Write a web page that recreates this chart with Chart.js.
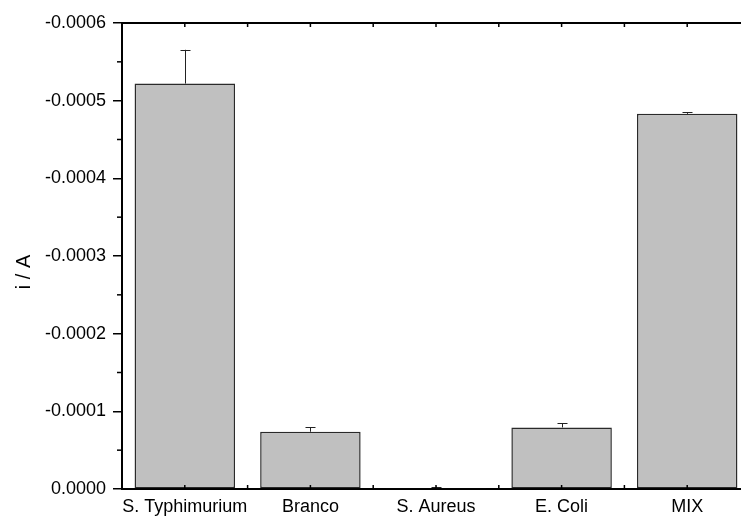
<!DOCTYPE html>
<html>
<head>
<meta charset="utf-8">
<script src="https://cdn.jsdelivr.net/npm/chart.js@4/dist/chart.umd.min.js"></script>
<style>
  html, body { margin: 0; padding: 0; background: #fff; overflow: hidden; }
  canvas { display: block; }
</style>
</head>
<body>
<canvas id="barChart" width="750" height="516"></canvas>
<script>
// values (current in A, negative goes up)
var categories = ['S. Typhimurium', 'Branco', 'S. Aureus', 'E. Coli', 'MIX'];
var current = [-0.000522, -0.0000737, -0.0000005, -0.0000793, -0.000483];
var errors = [0.0000435, 0.0000057, 0.0000025, 0.0000051, 0.0000021];
var minorTicks = [-0.00055, -0.00045, -0.00035, -0.00025, -0.00015, -0.00005];
var yTitle = 'i / A';

var fontFamily = "'Liberation Sans', Arial, sans-serif";

// error bars, top frame line, inward ticks, minor y ticks and the y title
var extras = {
    id: 'extras',
    afterDatasetsDraw: function(chart){
        var ctx = chart.ctx;
        var xs = chart.scales.x;
        var ys = chart.scales.y;
        var area = chart.chartArea;
        var meta = chart.getDatasetMeta(0);

        ctx.save();
        ctx.strokeStyle = '#222';
        ctx.lineWidth = 1;
        meta.data.forEach(function(bar, i){
            var y0 = ys.getPixelForValue(current[i]);
            var y1 = ys.getPixelForValue(current[i] - errors[i]);
            var cx = Math.round(bar.x) + 0.5;
            ctx.beginPath();
            ctx.moveTo(cx, y0);
            ctx.lineTo(cx, y1);
            ctx.moveTo(cx - 5, Math.round(y1) + 0.5);
            ctx.lineTo(cx + 5, Math.round(y1) + 0.5);
            ctx.stroke();
        });

        ctx.strokeStyle = '#000';
        ctx.lineWidth = 2;
        ctx.beginPath();
        ctx.moveTo(area.left, area.top);
        ctx.lineTo(area.right, area.top);
        ctx.stroke();

        ctx.lineWidth = 1.5;
        var half = (xs.getPixelForValue(1) - xs.getPixelForValue(0)) / 2;
        for (var i = 0; i < categories.length; i++) {
            var c = xs.getPixelForValue(i);
            [c, c + half].forEach(function(px){
                ctx.beginPath();
                ctx.moveTo(px, area.top);
                ctx.lineTo(px, area.top + 4);
                ctx.moveTo(px, area.bottom);
                ctx.lineTo(px, area.bottom - 4);
                ctx.stroke();
            });
        }

        minorTicks.forEach(function(v){
            var py = ys.getPixelForValue(v);
            ctx.beginPath();
            ctx.moveTo(area.left - 5, py);
            ctx.lineTo(area.left, py);
            ctx.stroke();
        });

        // y title sits a bit below the middle of the axis, like the original
        ctx.translate(24, (area.top + area.bottom) / 2 + 16);
        ctx.rotate(-Math.PI / 2);
        ctx.fillStyle = '#000';
        ctx.font = '20px ' + fontFamily;
        ctx.textAlign = 'center';
        ctx.textBaseline = 'middle';
        ctx.fillText(yTitle, 0, 0);
        ctx.restore();
    }
};

var data = {
    labels: categories,
    datasets: [{
        data: current,
        backgroundColor: '#c0c0c0',
        borderColor: '#2a2a2a',
        borderWidth: 1.5,
        borderSkipped: false,
        categoryPercentage: 0.8,
        barPercentage: 1
    }]
};

var options = {
    animation: false,
    responsive: false,
    devicePixelRatio: 1,
    layout: { padding: { top: 23, right: 0, left: 0, bottom: 0 } },
    plugins: {
        legend: { display: false },
        tooltip: { enabled: false }
    },
    scales: {
        x: {
            afterFit: function(scale){ scale.height = 27; },
            grid: { display: false, drawTicks: false },
            border: { display: true, color: '#000', width: 2 },
            ticks: {
                color: '#000',
                padding: 9,
                maxRotation: 0,
                autoSkip: false,
                font: { family: fontFamily, size: 18, lineHeight: 1 }
            }
        },
        y: {
            min: -0.0006,
            max: 0,
            reverse: true,
            afterFit: function(scale){ scale.width = 122; },
            grid: {
                drawOnChartArea: false,
                drawTicks: true,
                tickLength: 9,
                color: '#000',
                lineWidth: 1.5
            },
            border: { display: true, color: '#000', width: 2 },
            ticks: {
                stepSize: 0.0001,
                color: '#000',
                padding: 7,
                font: { family: fontFamily, size: 18 },
                callback: function(v){
                    if (Math.abs(v) < 1e-12) return '0.0000';
                    return v.toFixed(4);
                }
            }
        }
    }
};

const CHART = document.getElementById('barChart');
let currentChart = new Chart(CHART, {
    type: 'bar',
    data: data,
    options: options,
    plugins: [extras]
});
</script>
</body>
</html>
